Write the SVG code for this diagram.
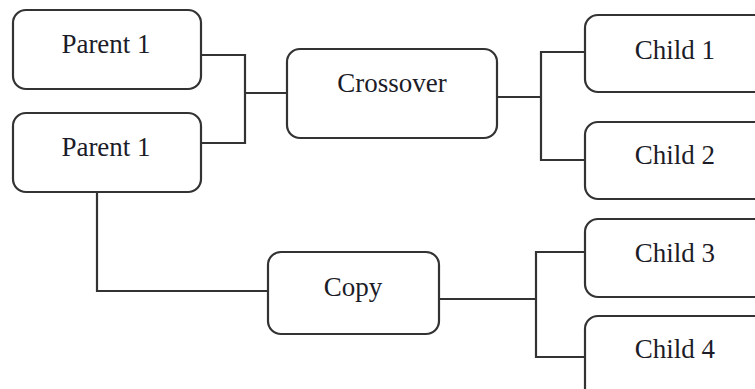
<svg xmlns="http://www.w3.org/2000/svg" width="755" height="389" viewBox="0 0 755 389">
  <style>
    .box { fill: #ffffff; stroke: #333333; stroke-width: 2.2; }
    .lbl { font-family: "Liberation Serif", "Times New Roman", serif; font-size: 27px; fill: #1c1c28; text-anchor: middle; }
    .wire { fill: none; stroke: #333333; stroke-width: 2.2; }
  </style>
  <rect width="755" height="389" fill="#ffffff"/>

  <g id="connectors">
    <!-- parents into crossover -->
    <path class="wire" d="M201 55 H245 V143 H201"/>
    <path class="wire" d="M245 93 H287"/>
    <!-- crossover out to children 1 and 2 -->
    <path class="wire" d="M497 97 H541"/>
    <path class="wire" d="M585 52 H541 V160 H585"/>
    <!-- second parent into copy -->
    <path class="wire" d="M97 192 V291 H268"/>
    <!-- copy out to children 3 and 4 -->
    <path class="wire" d="M439 299 H536"/>
    <path class="wire" d="M585 252 H536 V357 H585"/>
  </g>

  <g id="parent-a">
    <rect class="box" x="13" y="10" width="188" height="79" rx="13"/>
    <text class="lbl" x="106" y="53">Parent 1</text>
  </g>
  <g id="parent-b">
    <rect class="box" x="13" y="113" width="188" height="79" rx="13"/>
    <text class="lbl" x="106" y="156">Parent 1</text>
  </g>
  <g id="crossover">
    <rect class="box" x="287" y="49" width="210" height="89" rx="13"/>
    <text class="lbl" x="392" y="92">Crossover</text>
  </g>
  <g id="copy">
    <rect class="box" x="268" y="252" width="171" height="82" rx="13"/>
    <text class="lbl" x="353" y="296">Copy</text>
  </g>
  <g id="child-1">
    <rect class="box" x="585" y="15" width="190" height="77" rx="13"/>
    <text class="lbl" x="675" y="59">Child 1</text>
  </g>
  <g id="child-2">
    <rect class="box" x="585" y="122" width="190" height="77" rx="13"/>
    <text class="lbl" x="675" y="164">Child 2</text>
  </g>
  <g id="child-3">
    <rect class="box" x="585" y="219" width="190" height="78" rx="13"/>
    <text class="lbl" x="675" y="262">Child 3</text>
  </g>
  <g id="child-4">
    <rect class="box" x="585" y="316" width="190" height="90" rx="13"/>
    <text class="lbl" x="675" y="358">Child 4</text>
  </g>
</svg>
